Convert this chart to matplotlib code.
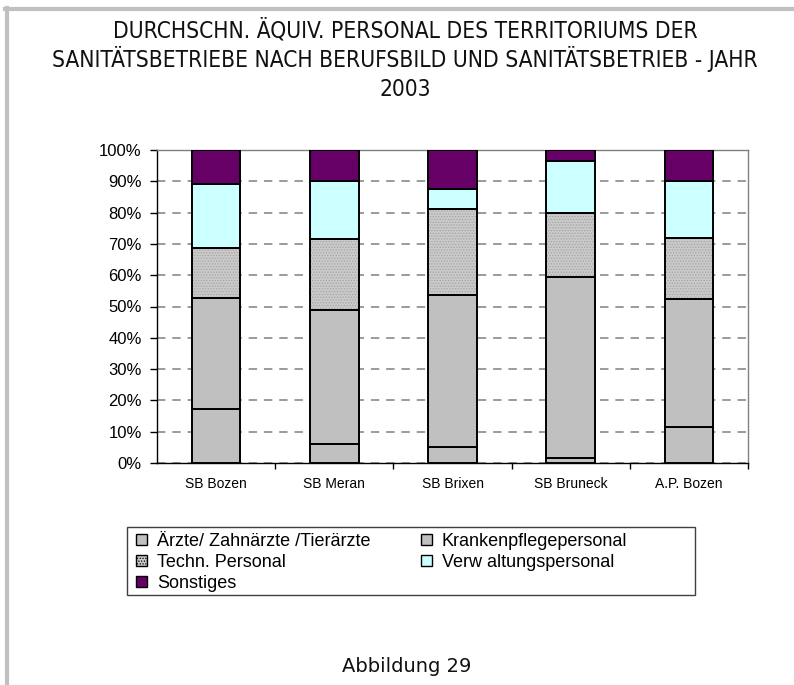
import matplotlib
matplotlib.use("Agg")
import matplotlib.pyplot as plt
from matplotlib.patches import Patch, Rectangle
from matplotlib.lines import Line2D
from matplotlib import font_manager

TITLE_LINES = [
    "DURCHSCHN. ÄQUIV. PERSONAL DES TERRITORIUMS DER",
    "SANITÄTSBETRIEBE NACH BERUFSBILD UND SANITÄTSBETRIEB - JAHR",
    "2003",
]
FOOTER = "Abbildung 29"

BETRIEBE = ["SB Bozen", "SB Meran", "SB Brixen", "SB Bruneck", "A.P. Bozen"]

# Anteile in %, von unten nach oben gestapelt
AERZTE      = [17.2, 6.0, 5.0, 1.7, 11.6]
KRANKENPFL  = [35.5, 42.9, 48.7, 57.6, 40.7]
TECHN       = [15.9, 22.6, 27.5, 20.7, 19.5]
VERWALTUNG  = [20.6, 18.6, 6.4, 16.6, 18.2]
SONSTIGES   = [10.8, 9.9, 12.4, 3.4, 10.0]

LABELS = ["Ärzte/ Zahnärzte /Tierärzte", "Krankenpflegepersonal",
          "Techn. Personal", "Verw altungspersonal", "Sonstiges"]

GRAU    = "#c0c0c0"
TECH    = "#cacaca"
CYAN    = "#ccffff"
LILA    = "#660066"

W, H = 794, 685


def schrift_narrow():
    namen = {f.name for f in font_manager.fontManager.ttflist}
    if "Liberation Sans Narrow" in namen:
        return {"family": "Liberation Sans Narrow"}
    return {"family": "DejaVu Sans", "fontstretch": "condensed"}


def main():
    plt.rcParams["font.family"] = ["Liberation Sans", "DejaVu Sans"]
    plt.rcParams["hatch.linewidth"] = 0.6

    fig = plt.figure(figsize=(W / 100, H / 100), dpi=100)
    fig.patch.set_facecolor("white")

    # grauer Rahmen oben und links
    fig.add_artist(Line2D([5 / W, 792 / W], [1 - 9 / H, 1 - 9 / H],
                          transform=fig.transFigure, color="#c0c0c0", linewidth=3))
    fig.add_artist(Line2D([7 / W, 7 / W], [1 - 8 / H, 0],
                          transform=fig.transFigure, color="#c0c0c0", linewidth=3))

    ax = fig.add_axes([157 / W, 1 - 463 / H, (748 - 157) / W, (463 - 150) / H])

    x = list(range(len(BETRIEBE)))
    breite = 0.41
    kante = dict(edgecolor="black", linewidth=1.4)

    unten = [0] * len(x)
    ax.bar(x, AERZTE, breite, bottom=unten, color=GRAU, zorder=3, **kante)
    unten = [u + v for u, v in zip(unten, AERZTE)]
    ax.bar(x, KRANKENPFL, breite, bottom=unten, color=GRAU, zorder=3, **kante)
    unten = [u + v for u, v in zip(unten, KRANKENPFL)]
    # gepunktete Textur, dann Umriss
    ax.bar(x, TECHN, breite, bottom=unten, color=TECH, hatch="......",
           edgecolor="#a4a4a4", linewidth=0, zorder=3)
    ax.bar(x, TECHN, breite, bottom=unten, fill=False, zorder=4, **kante)
    unten = [u + v for u, v in zip(unten, TECHN)]
    ax.bar(x, VERWALTUNG, breite, bottom=unten, color=CYAN, zorder=3, **kante)
    unten = [u + v for u, v in zip(unten, VERWALTUNG)]
    ax.bar(x, SONSTIGES, breite, bottom=unten, color=LILA, zorder=3, **kante)

    ax.set_xlim(-0.5, len(x) - 0.5)
    ax.set_ylim(0, 100)
    ax.set_yticks(range(0, 101, 10))
    ax.set_yticklabels([f"{v}%" for v in range(0, 101, 10)], fontsize=12)
    ax.yaxis.grid(True, color="#808080", linewidth=1.1, linestyle=(0, (5.5, 4.5)))
    ax.set_axisbelow(True)

    ax.set_xticks([i + 0.5 for i in x])
    ax.set_xticklabels([])
    ax.set_xticks(x, minor=True)
    ax.set_xticklabels(BETRIEBE, minor=True, fontsize=10)
    ax.tick_params(axis="x", which="minor", length=0, pad=10)
    ax.tick_params(axis="x", which="major", length=4, width=1)
    ax.tick_params(axis="y", length=5, width=1, pad=6)

    for s in ["left", "bottom"]:
        ax.spines[s].set_color("black")
        ax.spines[s].set_linewidth(1)
    for s in ["top", "right"]:
        ax.spines[s].set_color("#808080")
        ax.spines[s].set_linewidth(1)

    # Legende
    h_aerzte = Patch(facecolor=GRAU, edgecolor="black", linewidth=1)
    h_kranken = Patch(facecolor=GRAU, edgecolor="black", linewidth=1)
    h_techn = Patch(facecolor=TECH, edgecolor="black", linewidth=1, hatch="......")
    h_verw = Patch(facecolor=CYAN, edgecolor="black", linewidth=1)
    h_sonst = Patch(facecolor=LILA, edgecolor="black", linewidth=1)
    fig.legend([h_aerzte, h_techn, h_sonst, h_kranken, h_verw],
               [LABELS[0], LABELS[2], LABELS[4], LABELS[1], LABELS[3]],
               ncol=2, loc="upper left", bbox_to_anchor=(136 / W, 1 - 533 / H),
               frameon=False, fontsize=13, borderpad=0, borderaxespad=0,
               handlelength=0.6, handleheight=0.6, handletextpad=0.55,
               labelspacing=0.22, columnspacing=2.8)
    fig.add_artist(Rectangle((127 / W, 1 - 595 / H), (695 - 127) / W, (595 - 527) / H,
                             transform=fig.transFigure, fill=False,
                             edgecolor="#404040", linewidth=1))

    narrow = schrift_narrow()
    for zeile, basis in zip(TITLE_LINES, [38, 67, 96]):
        fig.text(405 / W, 1 - basis / H, zeile, ha="center", va="baseline",
                 fontsize=16.3, color="#111111", **narrow)

    fig.text(407 / W, 1 - 672 / H, FOOTER, ha="center", va="baseline",
             fontsize=14, family="DejaVu Sans", color="#111111")

    fig.savefig("out.png", dpi=100)


if __name__ == "__main__":
    main()
